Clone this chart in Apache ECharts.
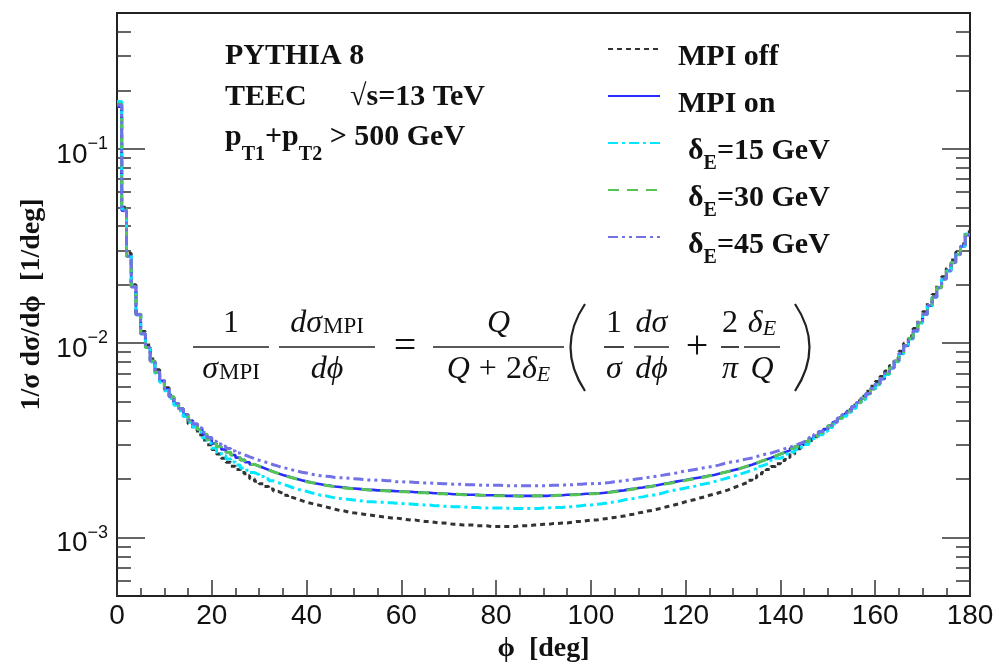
<!DOCTYPE html>
<html>
<head>
<meta charset="utf-8">
<script src="https://cdn.jsdelivr.net/npm/echarts@6/dist/echarts.min.js"></script>
<style>html,body{margin:0;padding:0;background:#fff}#c{width:999px;height:668px}</style>
</head>
<body>
<div id="c"></div>
<script>
// ---------- data ----------
const phiMin = 0, phiMax = 180, phiBinWidth = 1;
const xTickStep = 20;
const yMin = 5e-4, yMax = 0.5;
const yMajorTicks = [1e-3, 1e-2, 1e-1];
const yMinorTicks = [6e-4,7e-4,8e-4,9e-4, 2e-3,3e-3,4e-3,5e-3,6e-3,7e-3,8e-3,9e-3,
  2e-2,3e-2,4e-2,5e-2,6e-2,7e-2,8e-2,9e-2, 0.2,0.3,0.4];
const seriesNames = ['MPI off', 'MPI on', 'δE=15 GeV', 'δE=30 GeV', 'δE=45 GeV'];

const mpiOff = [
0.172,0.050,0.029,0.0200,0.0144,0.0115,0.0098,0.0083,0.0073,0.0065,
0.0059,0.0054,0.0049,0.0046,0.0042,0.00385,0.00360,0.00338,0.00318,0.00300,
0.00284,0.00269,0.00256,0.00244,0.00233,0.00224,0.00216,0.00208,0.00201,0.00195,
0.00189,0.00183,0.00178,0.00173,0.00169,0.00165,0.00161,0.00158,0.00155,0.00152,
0.00150,0.00148,0.00146,0.00144,0.00142,0.00140,0.00138,0.00137,0.00135,0.00134,
0.00133,0.00132,0.00131,0.00130,0.00129,0.00128,0.00127,0.00126,0.00126,0.00125,
0.00124,0.00123,0.00123,0.00122,0.00121,0.00121,0.00120,0.00119,0.00119,0.00118,
0.00117,0.00117,0.00116,0.00116,0.00116,0.00115,0.00115,0.00115,0.00114,0.00114,
0.00114,0.00114,0.00114,0.00114,0.00115,0.00115,0.00115,0.00116,0.00116,0.00117,
0.00117,0.00118,0.00118,0.00119,0.00119,0.00120,0.00121,0.00121,0.00122,0.00123,
0.00123,0.00124,0.00125,0.00126,0.00127,0.00128,0.00129,0.00131,0.00132,0.00134,
0.00135,0.00137,0.00138,0.00140,0.00142,0.00144,0.00146,0.00148,0.00150,0.00153,
0.00155,0.00157,0.00160,0.00162,0.00165,0.00167,0.00170,0.00173,0.00176,0.00180,
0.00184,0.00188,0.00192,0.00197,0.00203,0.00209,0.00216,0.00224,0.00232,0.00240,
0.00249,0.00258,0.00268,0.00279,0.00290,0.00302,0.00316,0.00330,0.00345,0.00361,
0.00377,0.00394,0.00413,0.00433,0.00455,0.00479,0.00505,0.00533,0.00566,0.00600,
0.00636,0.00675,0.00719,0.00768,0.00834,0.0091,0.0100,0.0109,0.0119,0.0132,
0.0145,0.0161,0.0178,0.0199,0.0220,0.0243,0.0268,0.0295,0.0324,0.0375];

const mpiOn = [
0.165,0.048,0.028,0.0195,0.0140,0.0112,0.0095,0.0081,0.0071,0.0064,
0.0058,0.0053,0.0049,0.0046,0.0043,0.0040,0.0038,0.0036,0.0034,0.0032,
0.00305,0.00294,0.00284,0.00275,0.00266,0.00258,0.00251,0.00244,0.00238,0.00233,
0.00228,0.00223,0.00218,0.00214,0.00210,0.00207,0.00203,0.00200,0.00197,0.00195,
0.00192,0.00190,0.00188,0.00186,0.00185,0.00183,0.00182,0.00181,0.00180,0.00179,
0.00178,0.00177,0.00176,0.00176,0.00175,0.00175,0.00174,0.00174,0.00173,0.00173,
0.00172,0.00172,0.00171,0.00171,0.00170,0.00170,0.00169,0.00169,0.00168,0.00168,
0.00167,0.00167,0.00167,0.00166,0.00166,0.00166,0.00165,0.00165,0.00165,0.00165,
0.00165,0.00164,0.00164,0.00164,0.00164,0.00164,0.00164,0.00164,0.00164,0.00164,
0.00164,0.00165,0.00165,0.00165,0.00166,0.00166,0.00167,0.00167,0.00168,0.00168,
0.00169,0.00169,0.00170,0.00171,0.00173,0.00174,0.00175,0.00177,0.00178,0.00180,
0.00181,0.00183,0.00184,0.00186,0.00188,0.00190,0.00192,0.00194,0.00196,0.00198,
0.00200,0.00202,0.00204,0.00206,0.00208,0.00210,0.00213,0.00216,0.00219,0.00222,
0.00225,0.00229,0.00233,0.00237,0.00242,0.00247,0.00252,0.00257,0.00263,0.00269,
0.00275,0.00281,0.00288,0.00295,0.00303,0.00311,0.00322,0.00334,0.00347,0.00361,
0.00376,0.00392,0.00410,0.00428,0.00448,0.00470,0.00494,0.00520,0.00550,0.00582,
0.00617,0.00655,0.00697,0.00745,0.00810,0.00885,0.0097,0.0106,0.0116,0.0128,
0.0141,0.0156,0.0173,0.0193,0.0214,0.0236,0.0260,0.0286,0.0315,0.0360];

const dE15 = [
0.175,0.049,0.0285,0.0195,0.0140,0.0112,0.0095,0.0080,0.0070,0.0063,
0.0057,0.0052,0.0048,0.0045,0.0042,0.00392,0.00371,0.00349,0.00326,0.00306,
0.00288,0.00276,0.00264,0.00254,0.00245,0.00236,0.00228,0.00222,0.00216,0.00211,
0.00206,0.00201,0.00196,0.00192,0.00188,0.00185,0.00181,0.00178,0.00175,0.00173,
0.00170,0.00168,0.00165,0.00164,0.00162,0.00160,0.00159,0.00158,0.00157,0.00156,
0.00155,0.00154,0.00153,0.00153,0.00152,0.00152,0.00151,0.00151,0.00150,0.00150,
0.00149,0.00149,0.00148,0.00148,0.00147,0.00147,0.00146,0.00146,0.00145,0.00145,
0.00144,0.00144,0.00144,0.00143,0.00143,0.00143,0.00142,0.00142,0.00142,0.00142,
0.00142,0.00142,0.00141,0.00141,0.00141,0.00141,0.00141,0.00141,0.00141,0.00142,
0.00142,0.00143,0.00143,0.00143,0.00144,0.00144,0.00145,0.00146,0.00147,0.00147,
0.00148,0.00149,0.00150,0.00151,0.00153,0.00154,0.00156,0.00158,0.00159,0.00161,
0.00162,0.00164,0.00165,0.00167,0.00169,0.00172,0.00174,0.00176,0.00178,0.00180,
0.00182,0.00184,0.00187,0.00189,0.00191,0.00194,0.00197,0.00200,0.00203,0.00206,
0.00210,0.00214,0.00218,0.00222,0.00227,0.00233,0.00238,0.00243,0.00250,0.00256,
0.00262,0.00269,0.00276,0.00284,0.00292,0.00301,0.00313,0.00325,0.00338,0.00352,
0.00368,0.00384,0.00402,0.00421,0.00441,0.00463,0.00487,0.00514,0.00544,0.00576,
0.00611,0.00649,0.00690,0.00738,0.00802,0.0088,0.0096,0.0105,0.0115,0.0127,
0.0140,0.0155,0.0172,0.0192,0.0213,0.0235,0.0259,0.0285,0.0316,0.0365];

const dE30 = [
0.170,0.049,0.028,0.0196,0.0141,0.0112,0.0095,0.0081,0.0071,0.0064,
0.0058,0.0053,0.0049,0.0046,0.0043,0.0040,0.0038,0.0036,0.0034,0.0032,
0.00304,0.00293,0.00284,0.00275,0.00266,0.00258,0.00251,0.00244,0.00238,0.00233,
0.00228,0.00223,0.00218,0.00214,0.00210,0.00206,0.00203,0.00200,0.00197,0.00194,
0.00192,0.00190,0.00188,0.00186,0.00184,0.00183,0.00182,0.00180,0.00179,0.00178,
0.00178,0.00177,0.00176,0.00175,0.00175,0.00174,0.00174,0.00173,0.00173,0.00172,
0.00172,0.00171,0.00171,0.00170,0.00170,0.00169,0.00169,0.00168,0.00168,0.00167,
0.00167,0.00167,0.00166,0.00166,0.00166,0.00165,0.00165,0.00165,0.00164,0.00164,
0.00164,0.00164,0.00164,0.00164,0.00163,0.00163,0.00163,0.00164,0.00164,0.00164,
0.00164,0.00164,0.00165,0.00165,0.00165,0.00166,0.00166,0.00167,0.00167,0.00168,
0.00168,0.00169,0.00170,0.00171,0.00172,0.00173,0.00175,0.00176,0.00178,0.00179,
0.00181,0.00182,0.00184,0.00186,0.00188,0.00189,0.00191,0.00193,0.00195,0.00197,
0.00199,0.00201,0.00203,0.00205,0.00208,0.00210,0.00213,0.00216,0.00219,0.00222,
0.00225,0.00229,0.00233,0.00237,0.00242,0.00247,0.00252,0.00257,0.00263,0.00269,
0.00275,0.00281,0.00288,0.00295,0.00303,0.00312,0.00322,0.00334,0.00347,0.00361,
0.00376,0.00392,0.00410,0.00428,0.00448,0.00470,0.00494,0.00521,0.00550,0.00582,
0.00617,0.00656,0.00698,0.00745,0.00810,0.00885,0.0097,0.0106,0.0116,0.0128,
0.0141,0.0156,0.0173,0.0193,0.0214,0.0236,0.0260,0.0287,0.0316,0.0362];

const dE45 = [
0.168,0.048,0.028,0.0195,0.0140,0.0112,0.0095,0.0081,0.0071,0.0064,
0.0058,0.0053,0.0049,0.0046,0.0043,0.00404,0.00385,0.00366,0.00347,0.00327,
0.00313,0.00303,0.00295,0.00287,0.00279,0.00272,0.00266,0.00260,0.00255,0.00250,
0.00246,0.00242,0.00237,0.00233,0.00229,0.00227,0.00223,0.00220,0.00217,0.00215,
0.00212,0.00210,0.00208,0.00207,0.00206,0.00204,0.00203,0.00203,0.00202,0.00201,
0.00200,0.00199,0.00198,0.00198,0.00197,0.00197,0.00196,0.00196,0.00194,0.00194,
0.00193,0.00193,0.00192,0.00192,0.00191,0.00191,0.00190,0.00190,0.00189,0.00189,
0.00188,0.00188,0.00188,0.00187,0.00187,0.00187,0.00186,0.00186,0.00186,0.00186,
0.00186,0.00185,0.00185,0.00185,0.00185,0.00185,0.00185,0.00185,0.00185,0.00185,
0.00185,0.00186,0.00186,0.00186,0.00187,0.00187,0.00188,0.00188,0.00189,0.00189,
0.00190,0.00190,0.00191,0.00192,0.00194,0.00195,0.00196,0.00198,0.00199,0.00201,
0.00202,0.00204,0.00205,0.00207,0.00209,0.00211,0.00213,0.00215,0.00218,0.00220,
0.00222,0.00224,0.00226,0.00229,0.00231,0.00233,0.00236,0.00240,0.00243,0.00246,
0.00248,0.00251,0.00254,0.00257,0.00261,0.00266,0.00269,0.00272,0.00277,0.00282,
0.00287,0.00292,0.00298,0.00304,0.00311,0.00317,0.00327,0.00339,0.00351,0.00364,
0.00378,0.00394,0.00412,0.00430,0.00450,0.00472,0.00496,0.00522,0.00552,0.00584,
0.00618,0.00656,0.00698,0.00745,0.00810,0.00885,0.0097,0.0106,0.0116,0.0128,
0.0141,0.0156,0.0173,0.0193,0.0214,0.0236,0.0260,0.0286,0.0315,0.0362];

const seriesValues = [mpiOff, mpiOn, dE15, dE30, dE45];

// ---------- styles ----------
const lineStyles = [
  {color: '#333333', width: 3, type: [5, 4]},
  {color: '#2b2bff', width: 2.6, type: 'solid'},
  {color: '#00e8ff', width: 3, type: [10, 4, 3, 4]},
  {color: '#55c455', width: 3, type: [11, 8]},
  {color: '#7272e6', width: 3, type: [10, 4, 3, 4, 3, 4]}
];
const SERIF = '"Liberation Serif","DejaVu Serif",serif';
const SANS = '"Liberation Sans",Arial,sans-serif';

function histPoints(vals) {
  const pts = vals.map((v, i) => [phiMin + i * phiBinWidth, v]);
  pts.push([phiMin + vals.length * phiBinWidth, vals[vals.length - 1]]);
  return pts;
}

const chart = echarts.init(document.getElementById('c'), null, {renderer: 'canvas'});

const grid = {left: 117, right: 29, top: 13, bottom: 67, show: true, borderColor: '#222', borderWidth: 2, backgroundColor: 'transparent'};

function yAxisDef(pos, ticks, len, labels) {
  return {
    type: 'log', logBase: 10, min: yMin, max: yMax, position: pos,
    axisLine: {show: false},
    splitLine: {show: false},
    minorTick: {show: false},
    axisTick: {show: true, inside: true, length: len, customValues: ticks, lineStyle: {color: '#333', width: 1.5}},
    axisLabel: labels ? {
      show: true, customValues: yMajorTicks, margin: 9,
      formatter: v => '{b|10}{s|−' + Math.round(-Math.log10(v)) + '}',
      rich: {
        b: {fontFamily: SANS, fontSize: 28, color: '#111', lineHeight: 28, padding: [6, 0, 0, 0], verticalAlign: 'top'},
        s: {fontFamily: SANS, fontSize: 18, color: '#111', lineHeight: 18, verticalAlign: 'top'}
      }
    } : {show: false}
  };
}

const yAxes = [
  Object.assign(yAxisDef('left', yMajorTicks, 28, true), {
    name: '1/σ dσ/dϕ  [1/deg]', nameLocation: 'middle', nameGap: 70, nameRotate: 90,
    nameTextStyle: {fontFamily: SERIF, fontWeight: 'bold', fontSize: 28, color: '#111'}
  }),
  yAxisDef('left', yMinorTicks, 14, false),
  yAxisDef('right', yMajorTicks, 28, false),
  yAxisDef('right', yMinorTicks, 14, false)
];

const legendRich = {
  m: {fontFamily: SERIF, fontWeight: 'bold', fontSize: 30, color: '#111', lineHeight: 30, padding: [8, 0, 8, 13], verticalAlign: 'top'},
  d: {fontFamily: SERIF, fontWeight: 'bold', fontSize: 30, color: '#111', lineHeight: 30, padding: [8, 0, 8, 23], verticalAlign: 'top'},
  t: {fontFamily: SERIF, fontWeight: 'bold', fontSize: 30, color: '#111', lineHeight: 30, padding: [8, 0, 8, 0], verticalAlign: 'top'},
  e: {fontFamily: SERIF, fontWeight: 'bold', fontSize: 20, color: '#111', lineHeight: 20, padding: [26, 0, 0, 0], verticalAlign: 'top'}
};
function legendFmt(name) {
  if (name.indexOf('δE') === 0) return '{d|δ}{e|E}{t|' + name.slice(2) + '}';
  return '{m|' + name + '}';
}

// formula helpers
const fRich = {
  r: {fontFamily: SERIF, fontSize: 32, color: '#111', lineHeight: 32, verticalAlign: 'bottom'},
  i: {fontFamily: SERIF, fontStyle: 'italic', fontSize: 32, color: '#111', lineHeight: 32, verticalAlign: 'bottom'},
  pl: {fontFamily: SERIF, fontSize: 32, color: '#111', lineHeight: 32, verticalAlign: 'bottom', padding: [0, 9, 0, 9]},
  s: {fontFamily: SERIF, fontSize: 23, color: '#111', lineHeight: 23, verticalAlign: 'bottom', padding: [0, 0, 2, 1]},
  se: {fontFamily: SERIF, fontStyle: 'italic', fontSize: 22, color: '#111', lineHeight: 22, verticalAlign: 'bottom'},
  op: {fontFamily: SERIF, fontSize: 40, color: '#111', lineHeight: 40}
};
const BAR_Y = 347;
function txt(x, y, text) {
  return {type: 'text', x: x, y: y, silent: true,
    style: {text: text, rich: fRich, align: 'center', verticalAlign: 'middle', fill: '#111'}};
}
function frac(x1, x2, num, den) {
  const cx = (x1 + x2) / 2;
  return [
    {type: 'line', silent: true, shape: {x1: x1, y1: BAR_Y, x2: x2, y2: BAR_Y}, style: {stroke: '#222', lineWidth: 1.7}},
    txt(cx, BAR_Y - 23, num),
    txt(cx, BAR_Y + 23, den)
  ];
}
const formula = [].concat(
  frac(193, 269, '{r|1}', '{i|σ}{s|MPI}'),
  frac(279, 375, '{i|dσ}{s|MPI}', '{i|dϕ}'),
  [txt(405, BAR_Y, '{op|=}')],
  frac(433, 564, '{i|Q}', '{i|Q}{pl|+}{r|2}{i|δ}{se|E}'),
  [{type: 'bezierCurve', silent: true, shape: {x1: 585, y1: 304, cpx1: 556, cpy1: 347, x2: 585, y2: 391}, style: {stroke: '#222', lineWidth: 2.2, fill: 'none'}}],
  frac(604, 624, '{r|1}', '{i|σ}'),
  frac(634, 669, '{i|dσ}', '{i|dϕ}'),
  [txt(697, BAR_Y, '{op|+}')],
  frac(721, 739, '{r|2}', '{i|π}'),
  frac(744, 780, '{i|δ}{se|E}', '{i|Q}'),
  [{type: 'bezierCurve', silent: true, shape: {x1: 795, y1: 304, cpx1: 824, cpy1: 347, x2: 795, y2: 391}, style: {stroke: '#222', lineWidth: 2.2, fill: 'none'}}]
);

const hRich = {
  n: {fontFamily: SERIF, fontWeight: 'bold', fontSize: 30, color: '#111', lineHeight: 30, verticalAlign: 'top'},
  sub: {fontFamily: SERIF, fontWeight: 'bold', fontSize: 20, color: '#111', lineHeight: 20, padding: [23, 0, 0, 0], verticalAlign: 'top'}
};
function htxt(x, y, text) {
  return {type: 'text', x: x, y: y, silent: true,
    style: {text: text, rich: hRich, align: 'left', verticalAlign: 'top', fill: '#111'}};
}
const header = [
  htxt(225, 41, '{n|PYTHIA 8}'),
  htxt(225, 82, '{n|TEEC}'),
  htxt(350, 82, '{n|√s=13 TeV}'),
  htxt(225, 122, '{n|p}{sub|T1}{n|+p}{sub|T2}{n| > 500 GeV}')
];

const option = {
  animation: false,
  backgroundColor: '#fff',
  grid: grid,
  xAxis: [{
    type: 'value', min: phiMin, max: phiMax, interval: xTickStep,
    name: 'ϕ  [deg]', nameLocation: 'middle', nameGap: 38,
    nameTextStyle: {fontFamily: SERIF, fontWeight: 'bold', fontSize: 28, color: '#111'},
    axisLine: {show: false},
    splitLine: {show: false},
    axisTick: {show: true, inside: true, length: 16, lineStyle: {color: '#333', width: 1.5}},
    minorTick: {show: true, splitNumber: 4, length: 8, lineStyle: {color: '#333', width: 1.5}},
    axisLabel: {fontFamily: SANS, fontSize: 28, color: '#111', margin: 6, showMinLabel: true, showMaxLabel: true}
  }],
  yAxis: yAxes,
  legend: {
    orient: 'vertical', left: 607, top: 34, padding: 0, itemWidth: 52, itemHeight: 14, itemGap: 1,
    data: seriesNames,
    formatter: legendFmt,
    itemStyle: {opacity: 0},
    textStyle: {rich: legendRich},
    selectedMode: false
  },
  series: seriesValues.map((vals, k) => ({
    name: seriesNames[k], type: 'line', step: 'end', xAxisIndex: 0, yAxisIndex: 0,
    showSymbol: false, symbol: 'none', data: histPoints(vals),
    lineStyle: lineStyles[k], itemStyle: {color: lineStyles[k].color},
    emphasis: {disabled: true}, z: 2 + k
  })),
  graphic: header.concat(formula)
};
chart.setOption(option);
</script>
</body>
</html>
